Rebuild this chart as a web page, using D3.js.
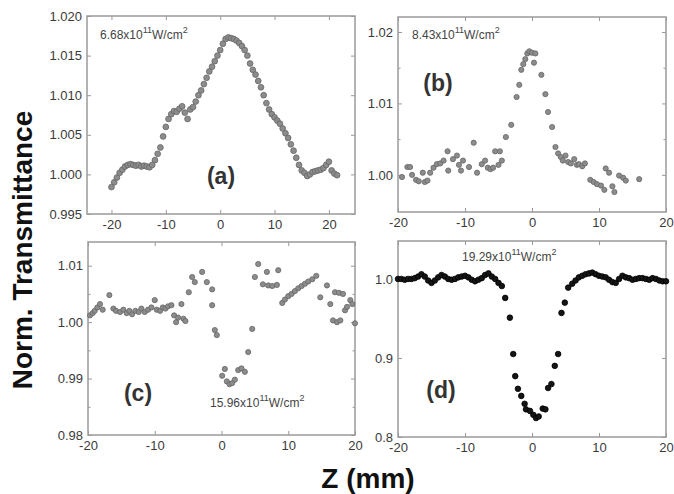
<!DOCTYPE html>
<html>
<head>
<meta charset="utf-8">
<script src="https://cdn.jsdelivr.net/npm/d3@7/dist/d3.min.js"></script>
<style>
  body { margin: 0; background: #fff; }
  text { font-family: "Liberation Sans", Arial, sans-serif; }
</style>
</head>
<body>
<div id="chart"></div>
<script>
// ---- data ----
// (a) 6.68e11 W/cm2
var aZ = [-20,-19.5,-19,-18.5,-18,-17.5,-17,-16.5,-16,-15.5,-15,-14.5,-14,-13.5,-13,-12.5,-12,-11.5,-11,-10.5,
  -10,-9.5,-9,-8.5,-8,-7.5,-7,-6.5,-6,-5.5,-5,-4.5,-4,-3.5,-3,-2.5,-2,-1.5,-1,-0.5,
  0,0.5,1,1.5,2,2.5,3,3.5,4,4.5,5,5.5,6,6.5,7,7.5,8,8.5,9,9.5,
  10,10.5,11,11.5,12,12.5,13,13.5,14,14.5,15,15.5,16,16.5,17,17.5,18,18.5,19,19.5,20,20.5,21,21.5];
var aV = [0.9984,0.9990,0.9996,1.0002,1.0006,1.0010,1.0012,1.0013,1.0012,1.0011,1.0012,1.0010,1.0011,1.0010,1.0009,1.0012,1.0018,1.0026,1.0034,1.0048,
  1.0060,1.0070,1.0076,1.0080,1.0079,1.0083,1.0086,1.0078,1.0070,1.0082,1.0085,1.0092,1.0100,1.0106,1.0114,1.0122,1.0130,1.0136,1.0143,1.0150,
  1.0157,1.0165,1.0171,1.0173,1.0172,1.0171,1.0169,1.0166,1.0162,1.0157,1.0150,1.0140,1.0132,1.0126,1.0118,1.0110,1.0100,1.0090,1.0082,1.0076,
  1.0072,1.0068,1.0064,1.0058,1.0052,1.0046,1.0038,1.0030,1.0021,1.0012,1.0005,1.0002,0.9998,1.0000,1.0003,1.0004,1.0005,1.0006,1.0008,1.0012,1.0016,1.0005,1.0001,0.9999];

// (b) 8.43e11 W/cm2
var bZ = [-19.4,-18.6,-18.2,-17.9,-17.3,-16.9,-16.3,-16.0,-15.6,-15.2,-14.7,-14.2,-13.7,-13.2,-12.6,-12.5,-11.8,-11.2,-10.9,-10.6,
  -10.3,-9.4,-8.7,-8.2,-7.5,-7.0,-6.6,-6.2,-5.8,-5.5,-5.0,-4.8,-4.5,-3.9,-3.1,-2.3,-1.9,-1.6,-1.3,-1.0,
  -0.7,-0.4,0.0,0.5,0.3,1.4,2.0,2.4,3.0,3.5,3.9,4.3,4.6,5.0,5.4,5.8,6.3,6.7,7.0,7.5,
  7.9,8.7,9.2,9.7,10.3,10.8,11.0,11.5,12.0,12.3,13.0,13.6,14.0,16.0];
var bV = [0.9997,1.0011,1.0011,1.0000,0.9993,0.9991,1.0003,0.9990,0.9992,1.0003,1.0010,1.0015,1.0016,1.0020,1.0033,1.0006,1.0022,1.0027,1.0014,1.0006,
  1.0020,1.0011,1.0045,1.0003,1.0015,1.0020,1.0010,1.0008,1.0010,1.0033,1.0014,1.0033,1.0020,1.0053,1.0070,1.0109,1.0126,1.0147,1.0155,1.0162,
  1.0170,1.0173,1.0171,1.0170,1.0157,1.0140,1.0113,1.0088,1.0067,1.0039,1.0030,1.0025,1.0020,1.0027,1.0018,1.0016,1.0022,1.0014,1.0015,1.0012,
  1.0016,0.9993,0.9990,0.9987,0.9985,0.9979,1.0009,1.0003,0.9984,0.9976,0.9999,0.9996,0.9992,0.9994];

// (c) 15.96e11 W/cm2
var cZ = [-19.7,-19.3,-19.0,-18.6,-18.2,-17.8,-16.8,-16.2,-15.8,-15.2,-14.7,-14.2,-13.8,-13.4,-12.9,-12.4,-12.0,-11.5,-11.0,-10.5,
  -10.0,-9.7,-9.2,-8.8,-8.4,-8.0,-7.5,-7.1,-6.8,-6.5,-6.0,-5.7,-5.4,-4.9,-4.4,-4.0,-2.9,-2.2,-1.4,-1.4,
  -1.0,-0.7,0.1,0.5,0.8,1.2,1.6,2.0,2.5,3.0,3.5,4.0,4.6,5.0,5.5,6.2,6.8,7.0,7.6,8.3,
  8.5,9.1,9.5,10.0,10.5,11.0,11.5,12.0,12.5,13.0,13.6,14.2,14.8,15.8,16.3,16.7,17.0,17.3,17.6,17.8,
  18.2,18.5,18.8,19.3,19.6,20.0];
var cV = [1.0012,1.0016,1.0020,1.0026,1.0032,1.0022,1.0048,1.0024,1.0020,1.0018,1.0022,1.0016,1.0020,1.0014,1.0020,1.0018,1.0024,1.0018,1.0022,1.0026,
  1.0039,1.0022,1.0020,1.0026,1.0024,1.0028,1.0030,1.0012,1.0000,1.0008,1.0032,1.0006,1.0002,1.0053,1.0080,1.0071,1.0089,1.0071,1.0058,1.0030,
  0.9986,0.9977,0.9905,0.9917,0.9895,0.9890,0.9892,0.9898,0.9915,0.9918,0.9912,0.9947,0.9988,1.0080,1.0103,1.0067,1.0089,1.0065,1.0064,1.0066,
  1.0092,1.0034,1.0040,1.0046,1.0050,1.0055,1.0060,1.0064,1.0068,1.0072,1.0076,1.0082,1.0044,1.0065,1.0032,1.0003,1.0053,1.0000,1.0052,1.0003,
  1.0050,1.0021,1.0027,1.0039,1.0032,0.9998];

// (d) 19.29e11 W/cm2
var dZ = [-20,-19.5,-19,-18.5,-18,-17.5,-17,-16.5,-16,-15.5,-15,-14.5,-14,-13.5,-13,-12.5,-12,-11.5,-11,-10.5,
  -10,-9.5,-9,-8.5,-8,-7.5,-7,-6.5,-6,-5.5,-5,-4.5,-4.0,-3.3,-2.8,-2.5,-2.1,-1.6,-1.1,-0.9,
  -0.3,0.2,0.6,1.0,1.6,2.0,2.4,2.9,3.4,3.9,4.4,4.9,5.4,6,6.5,7,7.5,8,8.5,9,
  9.5,10,10.5,11,11.5,12,12.5,13,13.5,14,14.5,15,15.5,16,16.5,17,17.5,18,18.5,19,19.5,20];
var dV = [1.000,1.000,0.999,1.000,1.000,1.001,1.003,1.006,1.003,0.998,0.995,0.998,1.002,1.005,1.003,1.000,0.999,1.000,1.002,1.003,
  1.004,1.002,0.999,0.997,0.999,1.001,1.005,1.007,1.003,1.000,0.995,0.991,0.976,0.951,0.905,0.877,0.861,0.852,0.842,0.835,
  0.833,0.828,0.824,0.826,0.836,0.835,0.862,0.867,0.890,0.905,0.957,0.970,0.989,0.994,0.998,1.002,1.004,1.006,1.007,1.008,
  1.006,1.004,1.003,1.002,0.999,0.996,0.995,1.000,1.004,1.002,1.001,0.999,1.000,1.001,1.001,1.000,0.999,1.001,1.000,0.998,0.997,0.997];

var xTicks = [-20, -10, 0, 10, 20];
var aTicks = [0.995, 1.000, 1.005, 1.010, 1.015, 1.020];
var bTicks = [1.00, 1.01, 1.02];
var cTicks = [0.98, 0.99, 1.00, 1.01];
var dTicks = [0.8, 0.9, 1.0];
var powers = ["6.68", "8.43", "15.96", "19.29"];
var tags = ["(a)", "(b)", "(c)", "(d)"];

// ---- layout ----
var width = 674, height = 494;
var svg = d3.select("#chart").append("svg").attr("width", width).attr("height", height);

var panels = [
  {z: aZ, v: aV, l: 87, r: 355, t: 16, b: 214, xd: [-24.5, 24.8], yd: [0.995, 1.020], yt: aTicks, minor: [], fmt: ".3f",
   fill: "#8c8c8c", stroke: "#666", rad: 2.9, power: powers[0], px: 100, py: 39, tag: tags[0], tx: 221, ty: 184},
  {z: bZ, v: bV, l: 398, r: 666, t: 17, b: 212, xd: [-20, 20], yd: [0.9948, 1.0221], yt: bTicks, minor: [1.005, 1.015], fmt: ".2f",
   fill: "#8c8c8c", stroke: "#666", rad: 2.6, power: powers[1], px: 412, py: 39, tag: tags[1], tx: 438, ty: 91},
  {z: cZ, v: cV, l: 88, r: 355, t: 242, b: 435, xd: [-20, 20], yd: [0.98, 1.0142], yt: cTicks, minor: [0.985, 0.995, 1.005], fmt: ".2f",
   fill: "#8c8c8c", stroke: "#666", rad: 2.6, power: powers[2], px: 210, py: 407, tag: tags[2], tx: 138, ty: 401},
  {z: dZ, v: dV, l: 398, r: 666, t: 241, b: 437, xd: [-20, 20], yd: [0.8, 1.048], yt: dTicks, minor: [], fmt: ".1f",
   fill: "#151515", stroke: "#000", rad: 2.8, power: powers[3], px: 462, py: 261, tag: tags[3], tx: 441, ty: 398}
];

panels.forEach(function(p) {
  var x = d3.scaleLinear().domain(p.xd).range([p.l, p.r]);
  var y = d3.scaleLinear().domain(p.yd).range([p.b, p.t]);
  var g = svg.append("g");
  var yf = d3.format(p.fmt);

  // tick labels + inward ticks on all four sides
  g.append("g").attr("transform", "translate(0," + p.b + ")")
    .call(d3.axisBottom(x).tickValues(xTicks).tickFormat(function(d) { return String(d); })
      .tickSizeInner(-4).tickSizeOuter(0).tickPadding(6));
  g.append("g").attr("transform", "translate(0," + p.t + ")")
    .call(d3.axisTop(x).tickValues(xTicks).tickFormat("").tickSizeInner(-4).tickSizeOuter(0));
  g.append("g").attr("transform", "translate(" + p.l + ",0)")
    .call(d3.axisLeft(y).tickValues(p.yt).tickFormat(function(d) { return yf(d); })
      .tickSizeInner(-4).tickSizeOuter(0).tickPadding(5));
  g.append("g").attr("transform", "translate(" + p.r + ",0)")
    .call(d3.axisRight(y).tickValues(p.yt).tickFormat("").tickSizeInner(-4).tickSizeOuter(0));
  g.append("g").attr("transform", "translate(" + p.l + ",0)")
    .call(d3.axisLeft(y).tickValues(p.minor).tickFormat("").tickSizeInner(-2.5).tickSizeOuter(0));
  g.append("g").attr("transform", "translate(" + p.r + ",0)")
    .call(d3.axisRight(y).tickValues(p.minor).tickFormat("").tickSizeInner(-2.5).tickSizeOuter(0));

  g.selectAll(".domain").remove();
  g.selectAll(".tick line").attr("stroke", "#999").attr("stroke-width", 1);
  g.selectAll(".tick text").attr("fill", "#3a3a3a").style("font-size", "13px")
    .style("font-family", "'Liberation Sans', Arial, sans-serif");

  // frame
  g.append("rect").attr("x", p.l).attr("y", p.t).attr("width", p.r - p.l).attr("height", p.b - p.t)
    .attr("fill", "none").attr("stroke", "#9a9a9a").attr("stroke-width", 1.5);

  // points
  g.append("g").selectAll("circle")
    .data(p.z.map(function(d, i) { return [d, p.v[i]]; }))
    .enter().append("circle")
    .attr("cx", function(d) { return x(d[0]); })
    .attr("cy", function(d) { return y(d[1]); })
    .attr("r", p.rad)
    .attr("fill", p.fill)
    .attr("stroke", p.stroke)
    .attr("stroke-width", 0.8);

  // intensity note with superscripts
  var t = g.append("text").attr("x", p.px).attr("y", p.py).attr("fill", "#444").style("font-size", "12px");
  t.append("tspan").text(p.power + "x10");
  t.append("tspan").attr("dy", -6).style("font-size", "9px").text("11");
  t.append("tspan").attr("dy", 6).text("W/cm");
  t.append("tspan").attr("dy", -6).style("font-size", "9px").text("2");

  // panel tag
  g.append("text").attr("x", p.tx).attr("y", p.ty).attr("text-anchor", "middle")
    .attr("fill", "#333").style("font-size", "23px").style("font-weight", "bold").text(p.tag);
});

// shared axis titles
svg.append("text")
  .attr("transform", "translate(32,250) rotate(-90)")
  .attr("text-anchor", "middle")
  .attr("fill", "#111")
  .style("font-size", "28px").style("font-weight", "bold")
  .text("Norm. Transmittance");

svg.append("text")
  .attr("x", 368).attr("y", 488)
  .attr("text-anchor", "middle")
  .attr("fill", "#111")
  .style("font-size", "28px").style("font-weight", "bold")
  .text("Z (mm)");
</script>
</body>
</html>
